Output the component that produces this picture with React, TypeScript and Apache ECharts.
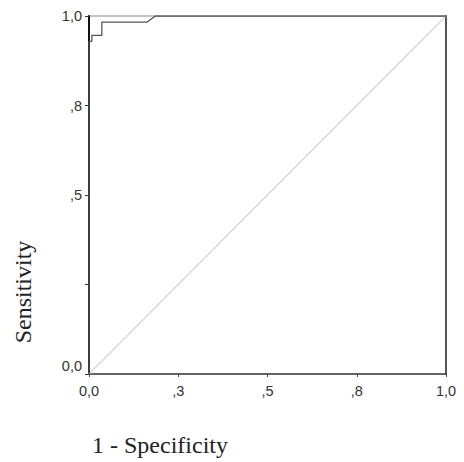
import React, { useEffect, useRef } from "react";
import * as echarts from "echarts";

const rocX = [0, 0, 0.008, 0.008, 0.036, 0.036, 0.163, 0.186, 1];
const rocY = [0, 0.929, 0.929, 0.946, 0.946, 0.983, 0.983, 1, 1];
const refX = [0, 1];
const refY = [0, 1];
const xTickLabels: Record<string, string> = { "0": "0,0", "0.25": ",3", "0.5": ",5", "0.75": ",8", "1": "1,0" };
const yTickLabels: Record<string, string> = { "0": "{z|0,0}", "0.25": "", "0.5": ",5", "0.75": ",8", "1": "1,0" };
const xTitle = "1 - Specificity";
const yTitle = "Sensitivity";

export default function App() {
  const ref = useRef<HTMLDivElement>(null);
  useEffect(() => {
    if (!ref.current) return;
    const chart = echarts.init(ref.current, null, { renderer: "svg" });
    const labelStyle = { fontFamily: "Liberation Sans, Arial, sans-serif", fontSize: 14.5, color: "#333" };
    const titleStyle = { fontFamily: "Liberation Serif", fontSize: 24, fill: "#222" };
    chart.setOption({
      animation: false,
      backgroundColor: "#fff",
      grid: { left: 89, top: 16, width: 357, height: 358, show: true, borderColor: "#8a8a8a", borderWidth: 1.2, backgroundColor: "transparent" },
      xAxis: {
        type: "value", min: 0, max: 1, interval: 0.25,
        axisLine: { show: true, onZero: false, lineStyle: { color: "#444", width: 1.5 } },
        axisTick: { show: true, length: 3, lineStyle: { color: "#444" } },
        splitLine: { show: false },
        axisLabel: { ...labelStyle, margin: 9, formatter: (v: number) => xTickLabels[String(v)] ?? "" },
      },
      yAxis: [
        {
          type: "value", min: 0, max: 1, interval: 0.25,
          axisLine: { show: true, onZero: false, lineStyle: { color: "#111", width: 2 } },
          axisTick: { show: true, length: 4, lineStyle: { color: "#333" } },
          splitLine: { show: false },
          axisLabel: {
            ...labelStyle, margin: 7,
            formatter: (v: number) => yTickLabels[String(v)] ?? "",
            rich: { z: { ...labelStyle, padding: [0, 0, 16, 0] } },
          },
        },
        {
          type: "value", min: 0, max: 1, position: "right",
          axisLine: { show: true, onZero: false, lineStyle: { color: "#555", width: 2 } },
          axisTick: { show: false }, axisLabel: { show: false }, splitLine: { show: false },
        },
      ],
      series: [
        {
          type: "line", data: refX.map((x, i) => [x, refY[i]]), symbol: "none",
          lineStyle: { color: "#d4d4d4", width: 1.2 }, silent: true,
        },
        {
          type: "line", data: rocX.map((x, i) => [x, rocY[i]]), symbol: "none",
          lineStyle: { color: "#555", width: 1.3 }, silent: true,
        },
      ],
      graphic: [
        {
          type: "text", x: 92, y: 445,
          style: { text: xTitle, ...titleStyle, align: "left", verticalAlign: "middle" },
        },
        {
          type: "text", x: 23, y: 292, rotation: Math.PI / 2,
          style: { text: yTitle, ...titleStyle, align: "center", verticalAlign: "middle" },
        },
      ],
    });
    return () => chart.dispose();
  }, []);
  return <div ref={ref} style={{ position: "fixed", left: 0, top: 0, width: 464, height: 462, background: "#fff" }} />;
}
